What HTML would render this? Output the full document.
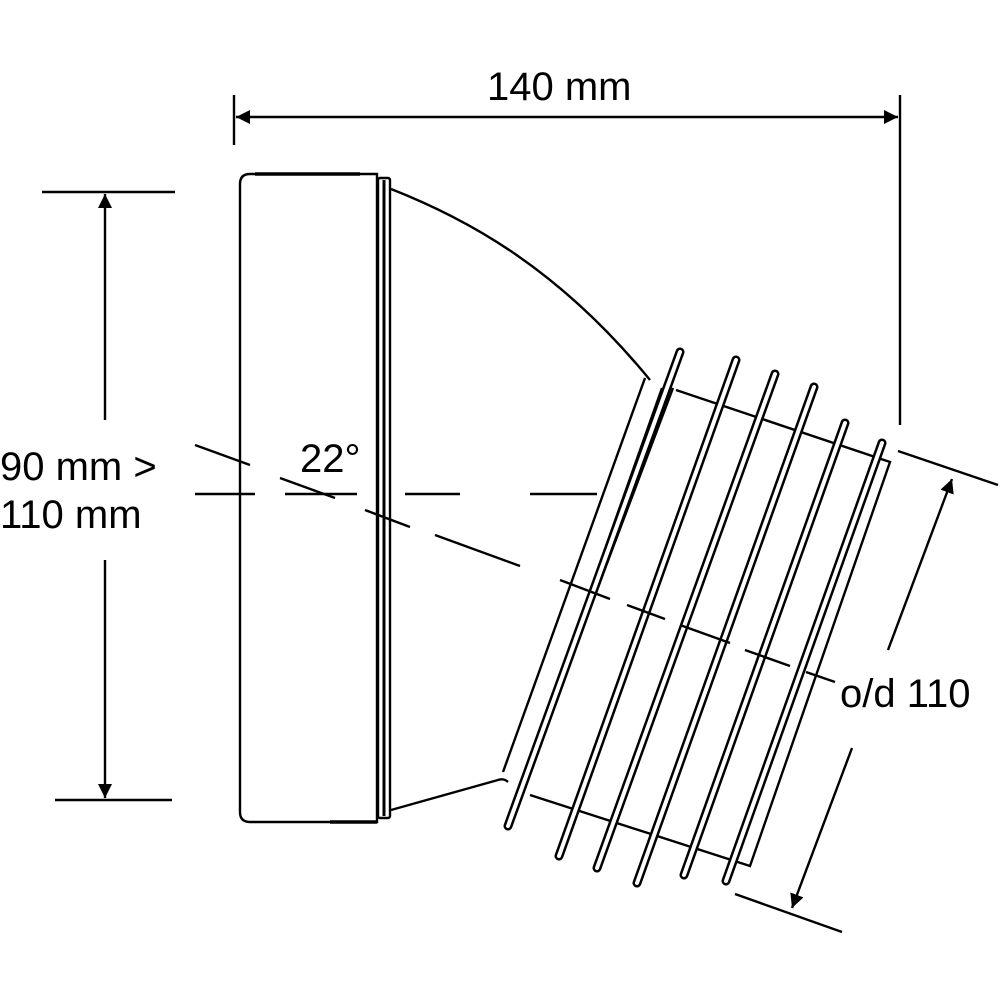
<!DOCTYPE html>
<html><head><style>html,body{margin:0;padding:0;background:#fff}svg{display:block}</style></head>
<body>
<svg width="1000" height="1000" viewBox="0 0 1000 1000" xmlns="http://www.w3.org/2000/svg">
<defs>
<marker id="ah" viewBox="0 0 10 10" refX="10" refY="5" markerWidth="14" markerHeight="26" markerUnits="userSpaceOnUse" orient="auto"><path d="M0,0 L10,5 L0,10 z" fill="#000"/></marker>
<marker id="as" viewBox="0 0 10 10" refX="0" refY="5" markerWidth="14" markerHeight="26" markerUnits="userSpaceOnUse" orient="auto"><path d="M10,0 L0,5 L10,10 z" fill="#000"/></marker>
</defs>
<g fill="none" stroke="#000" stroke-width="2.4">
<line x1="234" y1="95" x2="234" y2="145"/>
<line x1="900" y1="95" x2="900" y2="425"/>
<line x1="236" y1="117" x2="898" y2="117" marker-start="url(#as)" marker-end="url(#ah)"/>
<line x1="42" y1="192" x2="175" y2="192"/>
<line x1="55" y1="800" x2="172" y2="800"/>
<line x1="105" y1="420" x2="105" y2="194" marker-end="url(#ah)"/>
<line x1="105" y1="560" x2="105" y2="798" marker-end="url(#ah)"/>
<path d="M250,174 L377,174 L377,822 L250,822 Q240,822 240,812 L240,184 Q240,174 250,174 Z"/>
<line x1="255" y1="174" x2="360" y2="174" stroke-width="3.5"/>
<line x1="330" y1="822" x2="377" y2="822" stroke-width="3.5"/>
<rect x="378" y="178" width="12" height="640" rx="2"/>
<line x1="384" y1="180" x2="384" y2="816" stroke-width="3"/>
<path d="M391,189 C470,220 560,270 650,380"/>
<path d="M391,810 L498,780 Q504,778 508,782"/>
<path d="M676,390 L890,462 L750,866 L530,795"/>
<line x1="645" y1="378" x2="503" y2="772"/>
<line x1="673" y1="388" x2="530" y2="768"/>
<line x1="662" y1="388" x2="518" y2="795"/>
</g>
<g stroke-linecap="round" fill="none">
<g stroke="#000" stroke-width="9">
<line x1="680" y1="352" x2="508" y2="826"/>
<line x1="736" y1="360" x2="559" y2="856"/>
<line x1="775" y1="374" x2="597" y2="868"/>
<line x1="814" y1="387" x2="637" y2="883"/>
<line x1="845" y1="423" x2="684" y2="875"/>
<line x1="882" y1="443" x2="726" y2="881"/>
</g>
<g stroke="#fff" stroke-width="4">
<line x1="680" y1="352" x2="508" y2="826"/>
<line x1="736" y1="360" x2="559" y2="856"/>
<line x1="775" y1="374" x2="597" y2="868"/>
<line x1="814" y1="387" x2="637" y2="883"/>
<line x1="845" y1="423" x2="684" y2="875"/>
<line x1="882" y1="443" x2="726" y2="881"/>
</g>
</g>
<g fill="none" stroke="#000" stroke-width="2.4">
<line x1="195" y1="494" x2="255" y2="494"/>
<line x1="285" y1="494" x2="357" y2="494"/>
<line x1="405" y1="494" x2="460" y2="494"/>
<line x1="530" y1="494" x2="597" y2="494"/>
<line x1="195" y1="445" x2="250" y2="465"/>
<line x1="280" y1="478" x2="335" y2="498"/>
<line x1="365" y1="510" x2="410" y2="527"/>
<line x1="435" y1="535" x2="520" y2="566"/>
<line x1="560" y1="580" x2="610" y2="599"/>
<line x1="627" y1="605" x2="665" y2="619"/>
<line x1="680" y1="625" x2="730" y2="643"/>
<line x1="745" y1="650" x2="790" y2="666"/>
<line x1="806" y1="672" x2="835" y2="682"/>
<line x1="898" y1="451" x2="998" y2="485"/>
<line x1="735" y1="894" x2="842" y2="932"/>
<line x1="888" y1="650" x2="952" y2="479" marker-end="url(#ah)"/>
<line x1="852" y1="748" x2="792" y2="908" marker-end="url(#ah)"/>
</g>
<g font-family="Liberation Sans, sans-serif" font-size="40" fill="#000">
<text x="487" y="100">140 mm</text>
<text x="0" y="480">90 mm &gt;</text>
<text x="0" y="528">110 mm</text>
<text x="300" y="472">22°</text>
<text x="840" y="707">o/d 110</text>
</g>
</svg>
</body></html>
